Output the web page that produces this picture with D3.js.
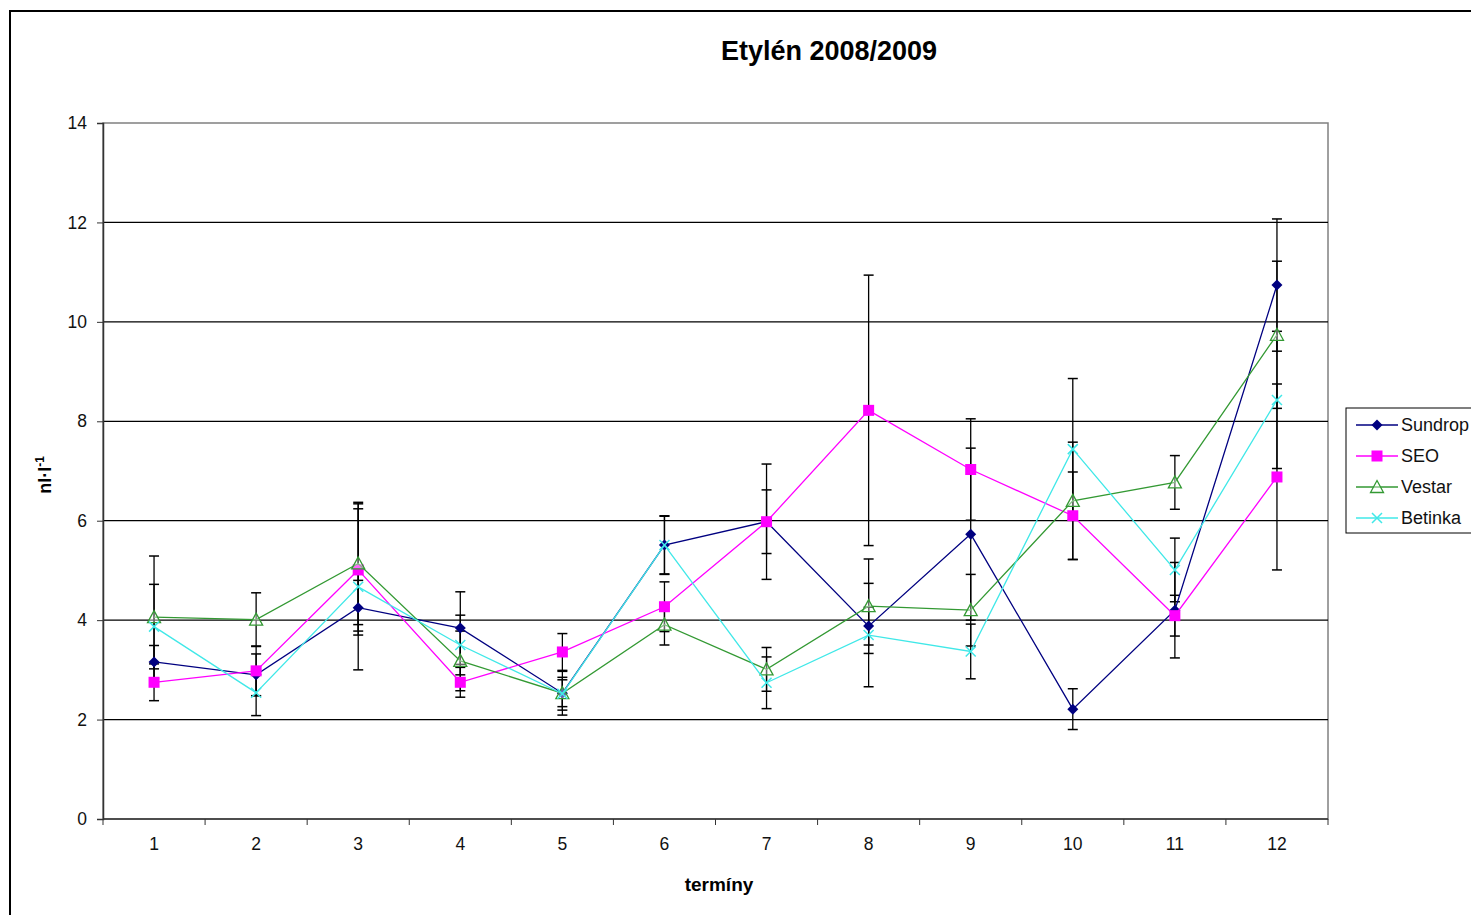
<!DOCTYPE html>
<html>
<head>
<meta charset="utf-8">
<script src="https://cdn.jsdelivr.net/npm/d3@7"></script>
<style>
  body { margin: 0; background: #fff; overflow: hidden; }
  text { font-family: Arial, "Liberation Sans", sans-serif; }
</style>
</head>
<body>
<div id="chart"></div>
<script>
// categories (termíny)
var terminy = ["1","2","3","4","5","6","7","8","9","10","11","12"];
var yTicks = [0, 2, 4, 6, 8, 10, 12, 14];

// series values
var sundrop     = [3.16, 2.90, 4.25, 3.84, 2.53, 5.51, 5.98, 3.88, 5.73, 2.21, 4.20, 10.74];
var sundropErr  = [0.33, 0.42, 0.55, 0.73, 0.27, 0.59, 0.64, 0.38, 1.73, 0.41, 0.96, 1.33];
var seo         = [2.75, 2.98, 5.01, 2.75, 3.36, 4.27, 5.98, 8.22, 7.03, 6.10, 4.09, 6.88];
var seoErr      = [0.37, 0.50, 1.23, 0.30, 0.37, 0.50, 1.16, 2.72, 1.02, 0.88, 0.41, 1.87];
var vestar      = [4.06, 4.01, 5.14, 3.18, 2.53, 3.91, 3.01, 4.28, 4.20, 6.40, 6.77, 9.74];
var vestarErr   = [1.23, 0.54, 1.23, 0.60, 0.44, 0.41, 0.44, 0.95, 0.72, 1.18, 0.54, 1.48];
var betinka     = [3.87, 2.54, 4.67, 3.50, 2.52, 5.51, 2.74, 3.70, 3.37, 7.44, 5.01, 8.43];
var betinkaErr  = [0.85, 0.46, 1.67, 0.60, 0.33, 0.58, 0.52, 1.04, 0.55, 1.42, 0.64, 1.38];

var seriesNames = ["Sundrop", "SEO", "Vestar", "Betinka"];

function loadChart() {
  var W = 1471, H = 915;
  var margin = { top: 123, left: 103, right: 143, bottom: 96 };
  var width = W - margin.left - margin.right;   // 1225
  var height = H - margin.top - margin.bottom;  // 696

  var series = [
    { name: seriesNames[0], vals: sundrop, err: sundropErr, color: "#000080", marker: "diamond" },
    { name: seriesNames[1], vals: seo,     err: seoErr,     color: "#ff00ff", marker: "square" },
    { name: seriesNames[2], vals: vestar,  err: vestarErr,  color: "#339933", marker: "triangle" },
    { name: seriesNames[3], vals: betinka, err: betinkaErr, color: "#40e8e8", marker: "cross" }
  ];

  var svg = d3.select("#chart").append("svg")
    .attr("width", W)
    .attr("height", H);

  // outer chart frame (runs past the window on right and bottom)
  svg.append("rect")
    .attr("x", 10).attr("y", 11)
    .attr("width", 1500).attr("height", 950)
    .attr("fill", "none")
    .attr("stroke", "#000")
    .attr("stroke-width", 2);

  // title
  svg.append("text")
    .attr("x", 829).attr("y", 60)
    .attr("text-anchor", "middle")
    .style("font-size", "27px")
    .style("font-weight", "bold")
    .text("Etylén 2008/2009");

  var g = svg.append("g")
    .attr("transform", "translate(" + margin.left + "," + margin.top + ")");

  var x = d3.scaleBand().domain(terminy).range([0, width]).padding(0);
  var y = d3.scaleLinear().domain([0, 14]).range([height, 0]);
  var cx = function(i) { return x(terminy[i]) + x.bandwidth() / 2; };

  // plot area border (grey)
  g.append("rect")
    .attr("x", 0).attr("y", 0)
    .attr("width", width).attr("height", height)
    .attr("fill", "none")
    .attr("stroke", "#808080")
    .attr("stroke-width", 1.5);

  // gridlines
  g.selectAll(".grid")
    .data(yTicks.filter(function(d) { return d > 0 && d < 14; }))
    .enter().append("line")
    .attr("x1", 0).attr("x2", width)
    .attr("y1", function(d) { return y(d); })
    .attr("y2", function(d) { return y(d); })
    .attr("stroke", "#000")
    .attr("stroke-width", 1.2);

  // y axis
  var yAxis = g.append("g")
    .call(d3.axisLeft(y).tickValues(yTicks).tickSize(6).tickPadding(10));
  yAxis.select(".domain").attr("stroke", "#333").attr("stroke-width", 1.5);
  yAxis.selectAll(".tick line").attr("stroke", "#333");
  yAxis.selectAll("text").style("font-size", "17.5px").attr("fill", "#111");

  // x axis - ticks on category boundaries
  var xAxisG = g.append("g").attr("transform", "translate(0," + height + ")");
  xAxisG.append("line")
    .attr("x1", 0).attr("x2", width)
    .attr("stroke", "#333").attr("stroke-width", 1.5);
  var bounds = terminy.map(function(d) { return x(d); }).concat([width]);
  xAxisG.selectAll(".xt").data(bounds).enter().append("line")
    .attr("x1", function(d) { return d; }).attr("x2", function(d) { return d; })
    .attr("y1", 0).attr("y2", 6)
    .attr("stroke", "#333");
  xAxisG.selectAll(".xl").data(terminy).enter().append("text")
    .attr("x", function(d) { return x(d) + x.bandwidth() / 2; })
    .attr("y", 31)
    .attr("text-anchor", "middle")
    .style("font-size", "17.5px")
    .attr("fill", "#111")
    .text(function(d) { return d; });

  // axis titles
  svg.append("text")
    .attr("x", 719).attr("y", 891)
    .attr("text-anchor", "middle")
    .style("font-size", "19px")
    .style("font-weight", "bold")
    .text("termíny");

  var yl = svg.append("text")
    .attr("transform", "translate(51,475) rotate(-90)")
    .attr("text-anchor", "middle")
    .style("font-size", "18px")
    .style("font-weight", "bold");
  yl.append("tspan").text("nl·l");
  yl.append("tspan").attr("dy", -7).style("font-size", "12px").text("-1");

  // error bars
  series.forEach(function(s) {
    var eg = g.append("g");
    s.vals.forEach(function(v, i) {
      var hi = y(v + s.err[i]), lo = y(v - s.err[i]), xc = cx(i);
      eg.append("line").attr("x1", xc).attr("x2", xc).attr("y1", hi).attr("y2", lo)
        .attr("stroke", "#000").attr("stroke-width", 1.3);
      [hi, lo].forEach(function(yy) {
        eg.append("line").attr("x1", xc - 5).attr("x2", xc + 5).attr("y1", yy).attr("y2", yy)
          .attr("stroke", "#000").attr("stroke-width", 1.5);
      });
    });
  });

  var line = d3.line()
    .x(function(d, i) { return cx(i); })
    .y(function(d) { return y(d); });

  function drawMarker(sel, type, color, px, py) {
    if (type === "diamond") {
      sel.append("path").attr("d", "M0,-5.5L5.5,0L0,5.5L-5.5,0Z")
        .attr("transform", "translate(" + px + "," + py + ")")
        .attr("fill", color);
    } else if (type === "square") {
      sel.append("rect").attr("x", px - 5.5).attr("y", py - 5.5)
        .attr("width", 11).attr("height", 11).attr("fill", color);
    } else if (type === "triangle") {
      sel.append("path").attr("d", "M0,-6.5L6.5,5.5L-6.5,5.5Z")
        .attr("transform", "translate(" + px + "," + py + ")")
        .attr("fill", "#fff").attr("fill-opacity", 0.4)
        .attr("stroke", color).attr("stroke-width", 1.3);
    } else {
      sel.append("path").attr("d", "M-5,-5L5,5M-5,5L5,-5")
        .attr("transform", "translate(" + px + "," + py + ")")
        .attr("stroke", color).attr("stroke-width", 1.5);
    }
  }

  series.forEach(function(s) {
    g.append("path")
      .datum(s.vals)
      .attr("fill", "none")
      .attr("stroke", s.color)
      .attr("stroke-width", 1.3)
      .attr("d", line);
    var mg = g.append("g");
    s.vals.forEach(function(v, i) { drawMarker(mg, s.marker, s.color, cx(i), y(v)); });
  });

  // legend
  var lg = svg.append("g").attr("transform", "translate(1346,408)");
  lg.append("rect")
    .attr("x", 0).attr("y", 0).attr("width", 140).attr("height", 125)
    .attr("fill", "#fff").attr("stroke", "#000").attr("stroke-width", 1);
  series.forEach(function(s, i) {
    var yy = 17 + i * 31;
    lg.append("line").attr("x1", 10).attr("x2", 52).attr("y1", yy).attr("y2", yy)
      .attr("stroke", s.color).attr("stroke-width", 1.3);
    drawMarker(lg, s.marker, s.color, 31, yy);
    lg.append("text").attr("x", 55).attr("y", yy + 6)
      .style("font-size", "18px").attr("fill", "#111")
      .text(s.name);
  });
}

loadChart();
</script>
</body>
</html>
